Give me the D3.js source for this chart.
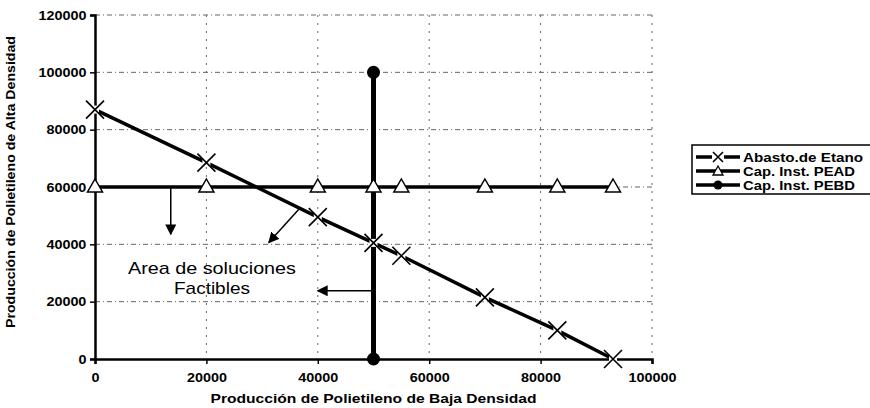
<!DOCTYPE html>
<html>
<head>
<meta charset="UTF-8">
<script src="https://cdn.jsdelivr.net/npm/d3@7"></script>
<style>
	body { margin: 0; background: #fff; }
	svg { font-family: 'Liberation Sans', Arial, sans-serif; }
</style>
</head>
<body>
<svg id="chart" width="870" height="408"></svg>
<script>
// datos
const xVals = [0, 20000, 40000, 50000, 55000, 70000, 83000, 93000];
const etano = [87000, 68500, 49500, 40500, 36000, 21500, 10000, 0];
const pead = [60000, 60000, 60000, 60000, 60000, 60000, 60000, 60000];
const pebdX = [50000, 50000];
const pebdY = [0, 100000];
const xTicks = [0, 20000, 40000, 60000, 80000, 100000];
const yTicks = [0, 20000, 40000, 60000, 80000, 100000, 120000];
const seriesNames = ['Abasto.de Etano', 'Cap. Inst. PEAD', 'Cap. Inst. PEBD'];
// flechas: [x1, y1, x2, y2]
const arrows = [
	[13600, 60000, 13600, 43500],
	[36800, 52700, 31200, 40600],
	[49800, 23800, 40000, 23800]
];
const areaText = ['Area de soluciones', 'Factibles'];

const svg = d3.select('#chart');
const margin = { left: 95, top: 15, right: 218, bottom: 49 };
const width = 870 - margin.left - margin.right;
const height = 408 - margin.top - margin.bottom;

const x = d3.scaleLinear([0, 100000], [0, width]);
const y = d3.scaleLinear([0, 120000], [height, 0]);

const defs = svg.append('defs');
defs.append('marker')
	.attr('id', 'head')
	.attr('viewBox', '0 0 10 10')
	.attr('refX', 9).attr('refY', 5)
	.attr('markerWidth', 11).attr('markerHeight', 11)
	.attr('markerUnits', 'userSpaceOnUse')
	.attr('orient', 'auto')
	.append('path').attr('d', 'M0,0L10,5L0,10z').attr('fill', '#000');

const g = svg.append('g')
	.attr('transform', 'translate(' + margin.left + ',' + margin.top + ')');

// grid
g.append('g').selectAll('line')
	.data(yTicks.slice(1))
	.enter().append('line')
	.attr('x1', 0).attr('x2', width)
	.attr('y1', (d) => y(d)).attr('y2', (d) => y(d))
	.attr('stroke', '#666').attr('stroke-width', 1)
	.attr('stroke-dasharray', '5,3,1,3');
g.append('g').selectAll('line')
	.data(xTicks.slice(1))
	.enter().append('line')
	.attr('x1', (d) => x(d)).attr('x2', (d) => x(d))
	.attr('y1', 0).attr('y2', height)
	.attr('stroke', '#666').attr('stroke-width', 1)
	.attr('stroke-dasharray', '2,6');

// ejes
const xAxis = g.append('g')
	.attr('transform', 'translate(0,' + height + ')')
	.call(d3.axisBottom(x).tickValues(xTicks).tickSize(5).tickFormat(d3.format('d')));
const yAxis = g.append('g')
	.call(d3.axisLeft(y).tickValues(yTicks).tickSize(5).tickFormat(d3.format('d')));
[xAxis, yAxis].forEach((a) => {
	a.select('.domain').attr('stroke', '#000').attr('stroke-width', 2.5);
	a.selectAll('.tick line').attr('stroke', '#000').attr('stroke-width', 1.5);
	a.selectAll('.tick text')
		.attr('fill', '#000')
		.attr('font-size', 12.5)
		.attr('font-weight', 'bold')
		.attr('font-family', "'Liberation Sans', Arial, sans-serif")
		.attr('transform', 'scale(1.15,1)');
});
xAxis.selectAll('.tick text').attr('dy', '1.2em');
yAxis.selectAll('.tick text').attr('x', -7.5);

// series
const pts = xVals.map((d, i) => ({ x: d, e: etano[i], p: pead[i] }));
const line = d3.line();
g.append('path')
	.attr('d', line(pts.map((d) => [x(d.x), y(d.p)])))
	.attr('fill', 'none').attr('stroke', '#000').attr('stroke-width', 3.5);
g.append('path')
	.attr('d', line(pebdX.map((d, i) => [x(d), y(pebdY[i])])))
	.attr('fill', 'none').attr('stroke', '#000').attr('stroke-width', 5);
g.append('path')
	.attr('d', line(pts.map((d) => [x(d.x), y(d.e)])))
	.attr('fill', 'none').attr('stroke', '#000').attr('stroke-width', 3.5);

function triangle(sel, cx, cy) {
	sel.append('path')
		.attr('d', 'M' + cx + ',' + (cy - 8) + 'L' + (cx + 7.5) + ',' + (cy + 5) + 'L' + (cx - 7.5) + ',' + (cy + 5) + 'Z')
		.attr('fill', '#fff').attr('stroke', '#000').attr('stroke-width', 1.5);
}
function cross(sel, cx, cy, r) {
	sel.append('path')
		.attr('d', 'M' + (cx - r) + ',' + (cy - r) + 'L' + (cx + r) + ',' + (cy + r) + 'M' + (cx + r) + ',' + (cy - r) + 'L' + (cx - r) + ',' + (cy + r))
		.attr('stroke', '#000').attr('stroke-width', 1.6).attr('fill', 'none');
}
pts.forEach((d) => triangle(g, x(d.x), y(d.p)));
pebdX.forEach((d, i) => {
	g.append('circle').attr('cx', x(d)).attr('cy', y(pebdY[i])).attr('r', 6.5).attr('fill', '#000');
});
pts.forEach((d) => {
	g.append('rect').attr('x', x(d.x) - 4).attr('y', y(d.e) - 4).attr('width', 8).attr('height', 8).attr('fill', '#fff');
	cross(g, x(d.x), y(d.e), 9);
});

// flechas
arrows.forEach((a) => {
	g.append('line')
		.attr('x1', x(a[0])).attr('y1', y(a[1]))
		.attr('x2', x(a[2])).attr('y2', y(a[3]))
		.attr('stroke', '#000').attr('stroke-width', 1.5)
		.attr('marker-end', 'url(#head)');
});

// texto del area
g.append('text')
	.attr('text-anchor', 'middle')
	.attr('font-size', 17)
	.selectAll('tspan')
	.data(areaText)
	.enter().append('tspan')
	.attr('x', x(21000))
	.attr('y', (d, i) => y(29500) + i * 20)
	.attr('textLength', (d, i) => i ? 76 : 168)
	.attr('lengthAdjust', 'spacingAndGlyphs')
	.text((d) => d);

// titulos
svg.append('text')
	.attr('x', margin.left + width / 2).attr('y', 403)
	.attr('text-anchor', 'middle')
	.attr('font-size', 12).attr('font-weight', 'bold')
	.attr('textLength', 326).attr('lengthAdjust', 'spacingAndGlyphs')
	.text('Producción de Polietileno de Baja Densidad');
svg.append('text')
	.attr('transform', 'translate(15,182) rotate(-90)')
	.attr('text-anchor', 'middle')
	.attr('font-size', 12).attr('font-weight', 'bold')
	.attr('textLength', 292).attr('lengthAdjust', 'spacingAndGlyphs')
	.text('Producción de Polietileno de Alta Densidad');

// leyenda
const leg = svg.append('g').attr('transform', 'translate(692,145)');
leg.append('rect').attr('width', 180).attr('height', 49)
	.attr('fill', '#fff').attr('stroke', '#000').attr('stroke-width', 1.5);
seriesNames.forEach((name, i) => {
	const ly = 12 + i * 14;
	leg.append('line').attr('x1', 4).attr('x2', 48).attr('y1', ly).attr('y2', ly)
		.attr('stroke', '#000').attr('stroke-width', 3.5);
	if (i === 0) {
		leg.append('rect').attr('x', 20).attr('y', ly - 4).attr('width', 12).attr('height', 8).attr('fill', '#fff');
		cross(leg, 26, ly, 5);
	} else if (i === 1) {
		leg.append('path')
			.attr('d', 'M26,' + (ly - 5) + 'L31,' + (ly + 4) + 'L21,' + (ly + 4) + 'Z')
			.attr('fill', '#fff').attr('stroke', '#000').attr('stroke-width', 1.3);
	} else {
		leg.append('circle').attr('cx', 26).attr('cy', ly).attr('r', 4.5).attr('fill', '#000');
	}
	leg.append('text').attr('x', 51).attr('y', ly + 4.5)
		.attr('font-size', 12).attr('font-weight', 'bold')
		.attr('textLength', i === 0 ? 120 : 112).attr('lengthAdjust', 'spacingAndGlyphs')
		.text(name);
});
</script>
</body>
</html>
